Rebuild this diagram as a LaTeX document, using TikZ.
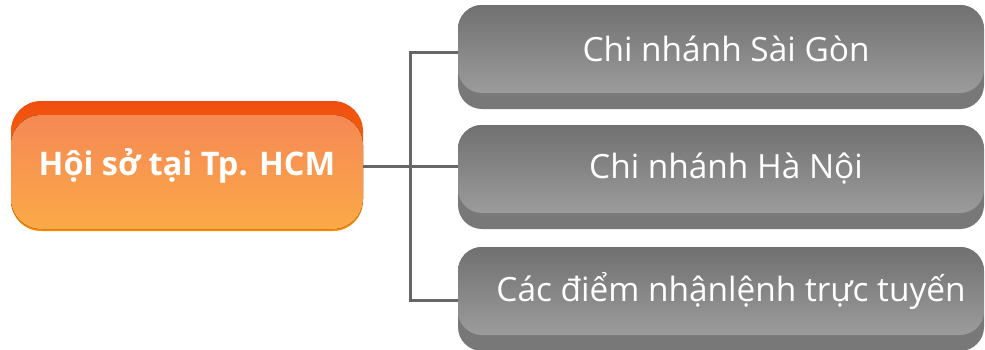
\documentclass[tikz,border=0pt]{standalone}
\usepackage{fontspec}
\setmainfont{Open Sans}
\usetikzlibrary{calc}
\definecolor{linegray}{HTML}{666666}
\definecolor{gbase}{HTML}{787878}
\definecolor{gtop}{HTML}{707070}
\definecolor{gbot}{HTML}{9C9C9C}
\definecolor{obaseT}{HTML}{EF4E10}
\definecolor{obaseB}{HTML}{FF8A00}
\definecolor{ofaceT}{HTML}{F58456}
\definecolor{ofaceB}{HTML}{FBAA48}
\tikzset{
  x=1pt, y=-1pt,
  conn/.style={draw=linegray, line width=3pt},
  gface/.style={minimum width=526pt, minimum height=88pt, inner sep=0pt,
    rounded corners=24pt, top color=gtop, bottom color=gbot, text=white,
    font=\fontsize{33.4}{38}\selectfont},
  gbasestyle/.style={fill=gbase, rounded corners=24pt},
  hubstyle/.style={minimum width=352pt, minimum height=130pt, inner sep=0pt,
    rounded corners=30pt, top color=obaseT, bottom color=obaseB, text=white,
    font=\bfseries\fontsize{32.5}{38}\selectfont,
    path picture={
      \fill[rounded corners=30pt, top color=ofaceT, bottom color=ofaceB]
        ($(path picture bounding box.north west)+(0,14)$) rectangle
        ($(path picture bounding box.south east)+(0,-2)$);
    }},
}
\begin{document}
\begin{tikzpicture}
\useasboundingbox (0,0) rectangle (985,349);
% bases of gray buttons
\fill[gbasestyle] (458,5) rectangle (984,109);
\fill[gbasestyle] (458,125) rectangle (984,229);
\fill[gbasestyle] (458,247) rectangle (984,351);
% nodes
\node[hubstyle] (hub) at (187,166) {Hội sở tại Tp. HCM};
\node[gface] (s1) at (721,49) {\hspace*{10pt}Chi nhánh Sài Gòn};
\node[gface] (s2) at (721,169) {\hspace*{10pt}Chi nhánh Hà Nội};
\node[gface] (s3) at (721,291) {\hspace*{20pt}Các điểm nhậnlệnh trực tuyến};
% connectors
\coordinate (jn) at (410,166);
\coordinate (j1) at (410,52);
\coordinate (j3) at (410,300);
\draw[conn] (hub.east) -- (jn) -- ($(s2.west)+(0,-3)$);
\draw[conn] ($(s1.west)+(0,3)$) -- (j1) -- (j3) -- ($(s3.west)+(0,9)$);
\end{tikzpicture}
\end{document}
